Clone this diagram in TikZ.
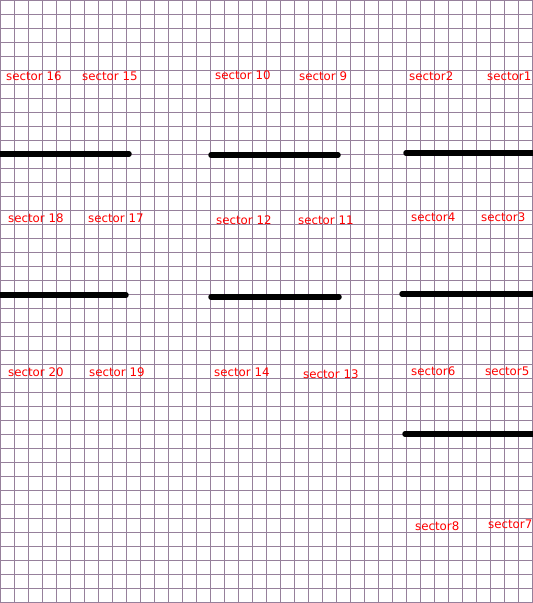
\documentclass[tikz,border=0pt]{standalone}
\usepackage{fontspec}
\setmainfont{DejaVu Sans}
\definecolor{gridpurple}{RGB}{150,128,155}
\definecolor{labelred}{RGB}{255,0,0}
\begin{document}
\begin{tikzpicture}[x=1pt,y=-1pt,
  gridline/.style={draw=gridpurple,line width=0.9pt},
  bar/.style={draw=black,line width=5.5pt,line cap=round},
  lbl/.style={anchor=west,inner sep=0pt,text=labelred,font=\fontsize{11.8}{12}\selectfont}]
\useasboundingbox (0,0) rectangle (533,603);
\fill[white] (0,0) rectangle (533,603);
% grid
\foreach \i in {0,14,...,532} {\draw[gridline] (\i,0) -- (\i,603);}
\foreach \j in {0,14,...,602} {\draw[gridline] (0,\j) -- (533,\j);}
% bars
\coordinate (b1a) at (-3,154); \coordinate (b1b) at (129,154);
\coordinate (b2a) at (211,155); \coordinate (b2b) at (338,155);
\coordinate (b3a) at (406,153); \coordinate (b3b) at (536,153);
\coordinate (b4a) at (-3,295); \coordinate (b4b) at (126,295);
\coordinate (b5a) at (211,297); \coordinate (b5b) at (339,297);
\coordinate (b6a) at (402,294); \coordinate (b6b) at (536,294);
\coordinate (b7a) at (405,434); \coordinate (b7b) at (536,434);
\draw[bar] (b1a) -- (b1b);
\draw[bar] (b2a) -- (b2b);
\draw[bar] (b3a) -- (b3b);
\draw[bar] (b4a) -- (b4b);
\draw[bar] (b5a) -- (b5b);
\draw[bar] (b6a) -- (b6b);
\draw[bar] (b7a) -- (b7b);
% labels row 1
\node[lbl] (s16) at (6,76) {sector 16};
\node[lbl] (s15) at (82,76) {sector 15};
\node[lbl] (s10) at (215,75) {sector 10};
\node[lbl] (s9) at (299,76) {sector 9};
\node[lbl] (s2) at (409,76) {sector2};
\node[lbl] (s1) at (487,76) {sector1};
% row 2
\node[lbl] (s18) at (8,218) {sector 18};
\node[lbl] (s17) at (88,218) {sector 17};
\node[lbl] (s12) at (216,220) {sector 12};
\node[lbl] (s11) at (298,220) {sector 11};
\node[lbl] (s4) at (411,217) {sector4};
\node[lbl] (s3) at (481,217) {sector3};
% row 3
\node[lbl] (s20) at (8,372) {sector 20};
\node[lbl] (s19) at (89,372) {sector 19};
\node[lbl] (s14) at (214,372) {sector 14};
\node[lbl] (s13) at (303,374) {sector 13};
\node[lbl] (s6) at (411,371) {sector6};
\node[lbl] (s5) at (485,371) {sector5};
% row 4
\node[lbl] (s8) at (415,526) {sector8};
\node[lbl] (s7) at (488,524) {sector7};
\end{tikzpicture}
\end{document}
